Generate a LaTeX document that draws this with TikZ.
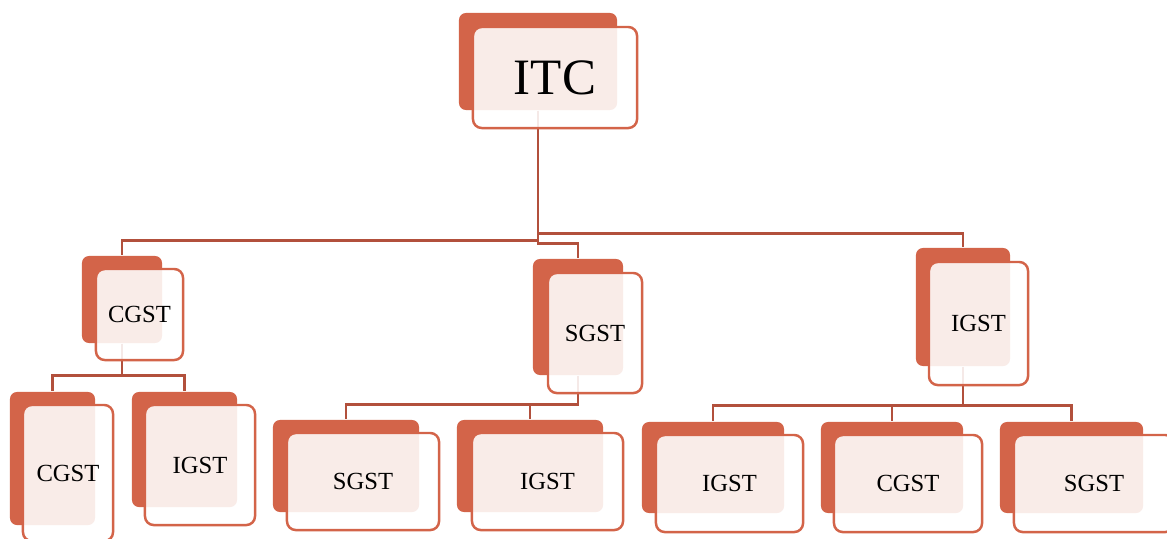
\documentclass[tikz,border=0pt]{standalone}
\usepackage{amsmath}
\usepackage{fontspec}
\setmainfont{Liberation Serif}
\usepackage{tikz}

\definecolor{boxorange}{RGB}{211,100,73}
\definecolor{linkred}{RGB}{178,80,60}

\begin{document}
\begin{tikzpicture}[x=0.01cm, y=-0.01cm,
	back/.style={draw=none, fill=boxorange, rounded corners=2pt, inner sep=0pt},
	front/.style={draw=boxorange, line width=0.7pt, fill=white, fill opacity=0.88, text opacity=1, rounded corners=2.5pt, inner sep=0pt, font=\fontsize{7}{8}\selectfont},
	link/.style={draw=linkred, line width=0.8pt}]
	\useasboundingbox (0,0) rectangle (1167,538);
	\clip (0,0) rectangle (1167,538);

	%Back boxes
	\node[back, minimum width=1.58cm, minimum height=0.97cm] (b0) at (538,61.5) {};
	\node[back, minimum width=0.80cm, minimum height=0.87cm] (b1) at (122,299.5) {};
	\node[back, minimum width=0.90cm, minimum height=1.16cm] (b2) at (578,317) {};
	\node[back, minimum width=0.94cm, minimum height=1.18cm] (b3) at (963,307) {};
	\node[back, minimum width=0.85cm, minimum height=1.33cm] (b4) at (52.5,458.5) {};
	\node[back, minimum width=1.05cm, minimum height=1.15cm] (b5) at (184.5,449.5) {};
	\node[back, minimum width=1.46cm, minimum height=0.92cm] (b6) at (346,466) {};
	\node[back, minimum width=1.46cm, minimum height=0.92cm] (b7) at (530,466) {};
	\node[back, minimum width=1.42cm, minimum height=0.91cm] (b8) at (713,467.5) {};
	\node[back, minimum width=1.42cm, minimum height=0.91cm] (b9) at (892,467.5) {};
	\node[back, minimum width=1.43cm, minimum height=0.91cm] (b10) at (1071.5,467.5) {};

	%Links
	\draw[link] (b0.south) -- ++(0,130) -| (b1.north);
	\draw[link] (b0.south) -- ++(0,133) -| (b2.north);
	\draw[link] (b0.south) -- ++(0,123) -| (b3.north);
	\draw[link] (b1.south) -- ++(0,32) -| (b4.north);
	\draw[link] (b1.south) -- ++(0,32) -| (b5.north);
	\draw[link] (b2.south) -- ++(0,29) -| (b6.north);
	\draw[link] (b2.south) -- ++(0,29) -| (b7.north);
	\draw[link] (b3.south) -- ++(0,39) -| (b8.north);
	\draw[link] (b3.south) -- ++(0,39) -| (b9.north);
	\draw[link] (b3.south) -- ++(0,39) -| (b10.north);

	%Front boxes
	\node[front, minimum width=1.64cm, minimum height=1.01cm, font=\fontsize{14.5}{17}\selectfont] (0) at (555,77.5) {ITC};
	\node[front, minimum width=0.87cm, minimum height=0.91cm] (1) at (139.5,314.5) {CGST};
	\node[front, minimum width=0.94cm, minimum height=1.20cm] (2) at (595,333) {SGST};
	\node[front, minimum width=0.99cm, minimum height=1.23cm] (3) at (978.5,323.5) {IGST};
	\node[front, minimum width=0.90cm, minimum height=1.36cm] (4) at (68,473) {CGST};
	\node[front, minimum width=1.10cm, minimum height=1.20cm] (5) at (200,465) {IGST};
	\node[front, minimum width=1.52cm, minimum height=0.97cm] (6) at (363,481.5) {SGST};
	\node[front, minimum width=1.51cm, minimum height=0.97cm] (7) at (547.5,481.5) {IGST};
	\node[front, minimum width=1.47cm, minimum height=0.97cm] (8) at (729.5,483.5) {IGST};
	\node[front, minimum width=1.48cm, minimum height=0.97cm] (9) at (908,483.5) {CGST};
	\node[front, minimum width=1.60cm, minimum height=0.97cm] (10) at (1094,483.5) {SGST};
\end{tikzpicture}
\end{document}
